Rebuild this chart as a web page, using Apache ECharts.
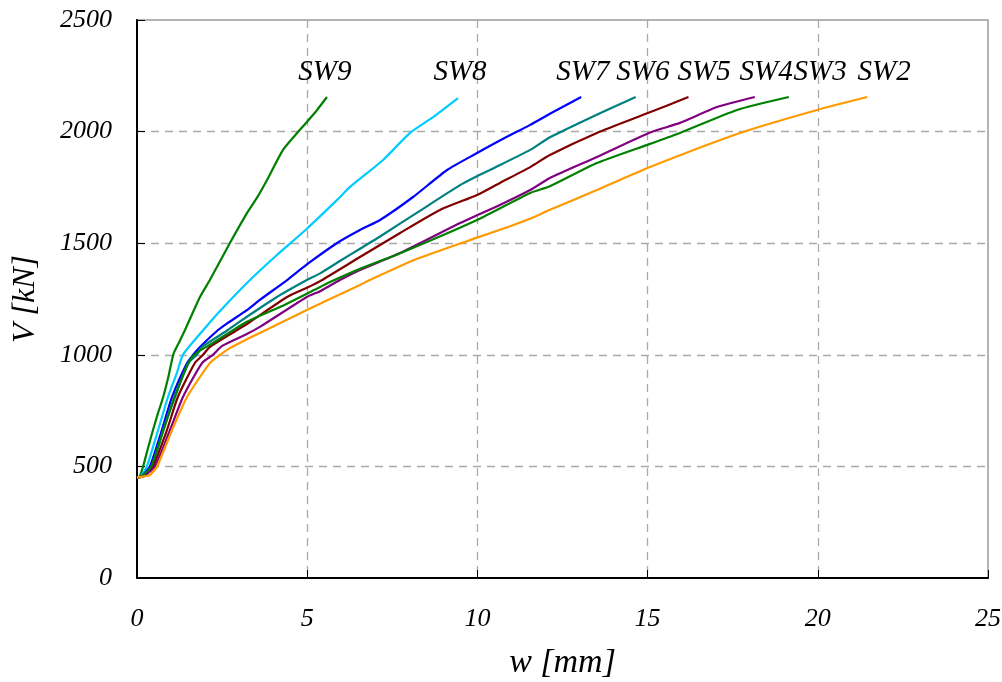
<!DOCTYPE html>
<html>
<head>
<meta charset="utf-8">
<script src="https://cdn.jsdelivr.net/npm/echarts@6/dist/echarts.min.js"></script>
<style>html,body{margin:0;padding:0;background:#fff;}#c{width:1002px;height:682px;}</style>
</head>
<body>
<div id="c"></div>
<script>
// ---- data ----
const seriesNames = ['SW9','SW8','SW7','SW6','SW5','SW4','SW3','SW2'];
const seriesColors = ['#008000','#00CCFF','#0000FF','#008080','#800000','#800080','#008000','#FF9900'];

const sw9_w = [0,0.08,0.18,0.32,0.47,0.62,0.77,0.92,1.07,1.25,1.41,1.85,2.14,2.73,3.23,3.55,3.82,4.29,4.73,4.99,5.29,5.58];
const sw9_V = [450,455,500,580,663,740,811,900,1003,1060,1111,1259,1335,1501,1635,1710,1783,1918,1998,2043,2097,2155];

const sw8_w = [0,0.1,0.29,0.62,0.91,1.17,1.35,2.0,2.35,3.23,4.11,4.99,5.88,6.26,7.23,8.02,8.70,9.43];
const sw8_V = [450,455,500,663,811,918,1000,1120,1182,1322,1447,1565,1694,1752,1873,1994,2065,2150];

const sw7_w = [0,0.15,0.38,0.73,1.03,1.47,1.65,1.85,2.38,2.64,3.23,3.61,4.41,4.99,5.88,6.55,7.14,8.11,9.11,9.99,10.66,11.55,12.13,13.05];
const sw7_V = [450,458,500,663,811,963,1000,1035,1111,1140,1200,1246,1335,1405,1501,1559,1604,1707,1828,1904,1960,2030,2080,2155];

const sw6_w = [0,0.2,0.44,0.77,1.12,1.50,1.76,1.91,2.67,3.03,4.11,4.99,5.38,5.96,6.55,7.14,8.31,9.49,9.99,10.46,11.55,12.13,13.01,14.0,14.65];
const sw6_V = [450,460,500,663,811,963,1000,1035,1111,1150,1259,1335,1365,1420,1475,1530,1645,1760,1800,1835,1918,1975,2040,2110,2155];

const sw5_w = [0,0.2,0.47,0.88,1.20,1.70,1.94,2.14,2.94,3.23,4.41,4.99,5.38,6.55,7.73,8.90,9.99,10.66,11.55,12.13,13.51,15.01,16.2];
const sw5_V = [450,458,500,663,811,963,1000,1035,1111,1138,1259,1300,1330,1438,1546,1649,1716,1770,1841,1895,1994,2083,2155];

const sw4_w = [0,0.2,0.53,0.97,1.35,1.91,2.23,2.5,3.17,3.61,4.99,5.38,5.96,6.55,7.73,9.49,9.99,10.66,11.55,12.13,13.51,15.07,15.95,17.04,18.15];
const sw4_V = [450,456,500,663,811,963,1000,1040,1089,1125,1259,1285,1335,1380,1456,1590,1625,1671,1738,1792,1886,1996,2039,2110,2155];

const sw3_w = [0,0.15,0.42,0.78,1.1,1.56,1.76,2.23,3.23,4.2,5.38,5.67,6.55,7.73,9.99,11.55,12.13,13.51,15.07,15.95,17.63,19.15];
const sw3_V = [450,458,500,663,811,977,1010,1053,1148,1214,1304,1326,1385,1455,1604,1725,1755,1859,1945,1994,2097,2155];

const sw2_w = [0,0.2,0.38,0.59,1.03,1.47,2.14,2.44,2.73,3.23,3.61,4.99,5.38,5.67,6.55,6.84,8.23,9.99,10.66,11.55,12.13,13.51,15.07,17.80,19.98,21.45];
const sw2_V = [450,455,461,500,663,811,963,1000,1030,1070,1098,1201,1229,1250,1313,1335,1430,1525,1560,1610,1650,1738,1841,1998,2097,2155];

const labelW = [5.52,9.49,13.1,14.86,16.66,18.48,20.07,21.95];
const labelV = [2267,2267,2267,2267,2267,2267,2267,2267];

const xTicks = {min:0, max:25, interval:5};
const yTicks = {min:0, max:2500, interval:500};
const xName = 'w [mm]';
const yName = 'V [kN]';

// ---- build ----
const allW = [sw9_w,sw8_w,sw7_w,sw6_w,sw5_w,sw4_w,sw3_w,sw2_w];
const allV = [sw9_V,sw8_V,sw7_V,sw6_V,sw5_V,sw4_V,sw3_V,sw2_V];
const FONT = "'Liberation Serif','Times New Roman',serif";

const series = seriesNames.map((n,i)=>({
  name:n, type:'line', showSymbol:false, symbol:'none', smooth:0.2,
  data: allW[i].map((w,k)=>[w, allV[i][k]]),
  lineStyle:{color:seriesColors[i], width:2.2},
  itemStyle:{color:seriesColors[i]},
  z:3, silent:true
}));
series.push({
  type:'scatter', symbolSize:0, silent:true,
  data: seriesNames.map((n,i)=>({name:n, value:[labelW[i], labelV[i]]})),
  label:{show:true, position:'inside', formatter:p=>p.name, color:'#000', opacity:1,
    fontFamily:FONT, fontStyle:'italic', fontSize:29, textBorderWidth:0},
  itemStyle:{color:'#000', opacity:1},
  z:4
});

const chart = echarts.init(document.getElementById('c'), null, {renderer:'canvas'});
chart.setOption({
  animation:false,
  backgroundColor:'#fff',
  grid:{left:137, right:14, top:20, bottom:104, containLabel:false, outerBoundsMode:'none',
    show:true, borderColor:'#9a9a9a', borderWidth:1.5},
  xAxis:{
    type:'value', min:xTicks.min, max:xTicks.max, interval:xTicks.interval,
    name:xName, nameLocation:'middle', nameGap:68,
    nameTextStyle:{fontFamily:FONT, fontStyle:'italic', fontSize:34, color:'#000'},
    axisLine:{show:true, onZero:false, lineStyle:{color:'#000', width:2}},
    axisTick:{show:true, inside:true, length:8, lineStyle:{color:'#000', width:1}},
    axisLabel:{fontFamily:FONT, fontStyle:'italic', fontSize:26, color:'#000', margin:28, formatter:v=>String(v)},
    splitLine:{show:true, showMinLine:false, showMaxLine:false, lineStyle:{color:'#aaaaaa', type:[8,6], width:1.3}}
  },
  yAxis:{
    type:'value', min:yTicks.min, max:yTicks.max, interval:yTicks.interval,
    name:yName, nameLocation:'middle', nameGap:95,
    nameTextStyle:{fontFamily:FONT, fontStyle:'italic', fontSize:32, color:'#000'},
    axisLine:{show:true, onZero:false, lineStyle:{color:'#000', width:2}},
    axisTick:{show:true, inside:true, length:8, lineStyle:{color:'#000', width:1}},
    axisLabel:{fontFamily:FONT, fontStyle:'italic', fontSize:26, color:'#000', margin:25, formatter:v=>String(v)},
    splitLine:{show:true, showMinLine:false, showMaxLine:false, lineStyle:{color:'#aaaaaa', type:[8,6], width:1.3}}
  },
  series: series
});
</script>
</body>
</html>
